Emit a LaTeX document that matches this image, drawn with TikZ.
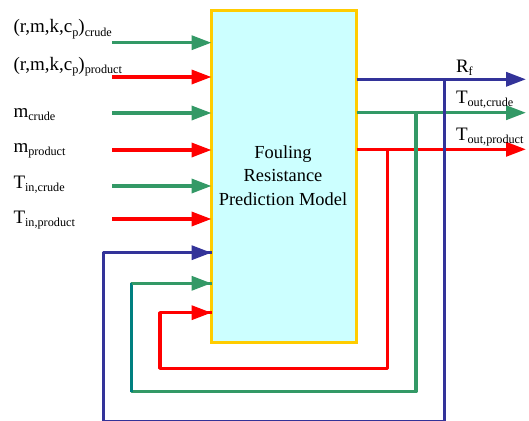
\documentclass[tikz,border=0pt]{standalone}
\usepackage{fontspec}
\setmainfont{Liberation Serif}
\usetikzlibrary{arrows.meta}
\definecolor{cgreen}{RGB}{51,153,102}
\definecolor{cteal}{RGB}{0,128,128}
\definecolor{cred}{RGB}{255,0,0}
\definecolor{cblue}{RGB}{51,51,153}
\definecolor{cyell}{RGB}{255,204,0}
\definecolor{cfill}{RGB}{204,255,255}
\newcommand{\lsub}[1]{\raisebox{-0.17em}{\fontsize{12.2}{13}\selectfont #1}}
\begin{document}
\begin{tikzpicture}[x=1pt,y=-1pt,
  every node/.style={inner sep=0pt, outer sep=0pt},
  lab/.style={anchor=base west, font=\fontsize{19}{22}\selectfont},
  ln/.style={line width=3.5pt},
  tip/.style={-{Triangle[length=20pt,width=14pt]}},
  garr/.style={ln, cgreen, tip},
  rarr/.style={ln, cred, tip},
  barr/.style={ln, cblue, tip},
  modelbox/.style={draw=cyell, fill=cfill, line width=3pt, minimum width=145pt, minimum height=332pt}]
\useasboundingbox (0,0) rectangle (529,420);
\begin{scope}
\clip (0,0) rectangle (529,420);
\node[modelbox] (model) at (284,176.5) {};
\node[font=\fontsize{18.4}{23.4}\selectfont, align=center, anchor=base] (mtxt) at (283,205) {Fouling\\Resistance\\Prediction Model};

% left inputs
\coordinate (i1) at (112,42.7);
\coordinate (i2) at (112,77);
\coordinate (i3) at (112,113);
\coordinate (i4) at (112,150);
\coordinate (i5) at (112,186);
\coordinate (i6) at (112,219);
\draw[garr] (i1) -- (i1 -| model.west);
\draw[rarr] (i2) -- (i2 -| model.west);
\draw[garr] (i3) -- (i3 -| model.west);
\draw[rarr] (i4) -- (i4 -| model.west);
\draw[garr] (i5) -- (i5 -| model.west);
\draw[rarr] (i6) -- (i6 -| model.west);

\node[lab] (l1) at (13.5,33) {(r,m,k,c\lsub{p})\lsub{crude}};
\node[lab] (l2) at (13.5,70) {(r,m,k,c\lsub{p})\lsub{product}};
\node[lab] (l3) at (13.5,117) {m\lsub{crude}};
\node[lab] (l4) at (13.5,152) {m\lsub{product}};
\node[lab] (l5) at (13.5,188) {T\lsub{in,crude}};
\node[lab] (l6) at (13.5,223) {T\lsub{in,product}};

% outputs
\coordinate (o1) at (526,79.3);
\coordinate (o2) at (526,112.7);
\coordinate (o3) at (526,149.3);
\draw[barr] (o1 -| model.east) -- (o1);
\draw[garr] (o2 -| model.east) -- (o2);
\draw[rarr] (o3 -| model.east) -- (o3);
\node[lab] (r1) at (456,72) {R\lsub{f}};
\node[lab] (r2) at (456,103) {T\lsub{out,crude}};
\node[lab] (r3) at (456,140.7) {T\lsub{out,product}};

% feedback loops
\coordinate (fb) at (444.3,79.3);
\coordinate (fg) at (416,112.7);
\coordinate (fr) at (387.7,149.3);
\coordinate (cb) at (103.3,421.3);
\coordinate (cg) at (131.7,391.5);
\coordinate (cr) at (160,368.3);
\coordinate (eb) at (0,252.7);
\coordinate (eg) at (0,283.3);
\coordinate (er) at (0,312.7);
\draw[ln, cred, line join=round] (fr) |- (cr) |- (er -| model.west);
\draw[rarr] (cr |- er) -- (er -| model.west);
\draw[ln, cgreen, line join=round] (fg) |- (cg) |- (eg -| model.west);
\draw[ln, cteal] (cg) -- (cg |- eg);
\draw[garr] (cg |- eg) -- (eg -| model.west);
\draw[ln, cblue, line join=round] (fb) |- (cb) |- (eb -| model.west);
\draw[barr] (cb |- eb) -- (eb -| model.west);
\end{scope}
\end{tikzpicture}
\end{document}
